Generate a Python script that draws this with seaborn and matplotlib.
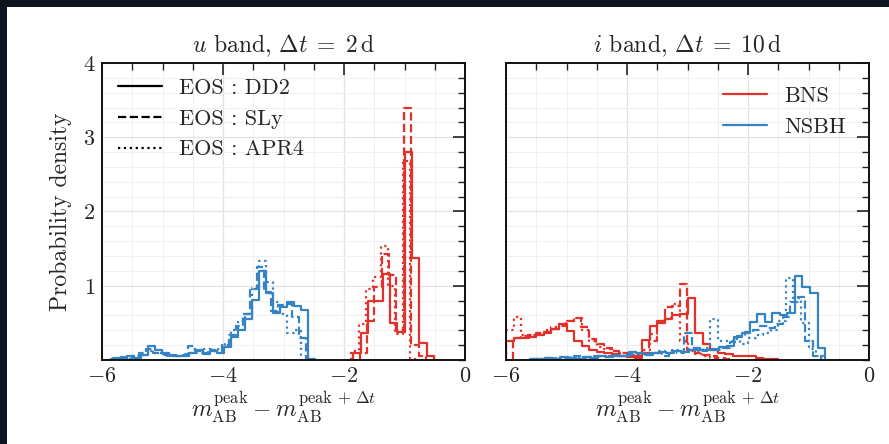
import numpy as np
import pandas as pd
import seaborn as sns
import matplotlib.pyplot as plt
from matplotlib.lines import Line2D
from matplotlib.patches import Rectangle
from matplotlib.ticker import MultipleLocator

# histogram data: first edge, bin width, heights
# u band, dt = 2 d
u_bns_dd2_start, u_bns_dd2_width = -1.846, 0.1215
u_bns_dd2 = [0.09, 0.36, 0.80, 0.80, 1.16, 0.50, 0.38, 2.80, 1.37, 0.23, 0.06]
u_bns_sly_start, u_bns_sly_width = -1.74, 0.1215
u_bns_sly = [0.10, 0.52, 0.98, 1.43, 1.15, 0.40, 3.40, 0.20, 0.05]
u_bns_apr4_start, u_bns_apr4_width = -1.88, 0.1215
u_bns_apr4 = [0.12, 0.49, 0.96, 1.12, 1.53, 1.00, 0.35, 2.68, 0.02]

u_nsbh_dd2_start, u_nsbh_dd2_width = -5.82, 0.115
u_nsbh_dd2 = [0.03, 0.01, 0.05, 0.03, 0.07, 0.19, 0.13, 0.10, 0.07, 0.06,
              0.05, 0.10, 0.13, 0.08, 0.12, 0.10, 0.17, 0.31, 0.40, 0.55,
              0.81, 1.20, 0.90, 0.63, 0.72, 0.78, 0.73, 0.67, 0.02]
u_nsbh_sly_start, u_nsbh_sly_width = -5.85, 0.115
u_nsbh_sly = [0.02, 0.04, 0.02, 0.06, 0.09, 0.15, 0.10, 0.08, 0.06, 0.05,
              0.07, 0.19, 0.12, 0.10, 0.14, 0.12, 0.20, 0.34, 0.46, 0.62,
              0.95, 1.25, 0.92, 0.66, 0.74, 0.76, 0.58, 0.30]
u_nsbh_apr4_start, u_nsbh_apr4_width = -5.70, 0.115
u_nsbh_apr4 = [0.03, 0.02, 0.05, 0.07, 0.12, 0.09, 0.07, 0.05, 0.06, 0.08,
               0.10, 0.12, 0.15, 0.12, 0.16, 0.22, 0.40, 0.52, 0.62, 0.97,
               1.33, 1.05, 0.78, 0.62, 0.36, 0.40]

# i band, dt = 10 d
i_bns_dd2_start, i_bns_dd2_width = -6.0, 0.125
i_bns_dd2 = [0.25, 0.29, 0.30, 0.31, 0.34, 0.37, 0.42, 0.48, 0.39, 0.26,
             0.19, 0.13, 0.11, 0.09, 0.08, 0.06, 0.04, 0.03, 0.27, 0.46,
             0.50, 0.55, 0.60, 0.62, 0.84, 0.36, 0.22, 0.13, 0.10, 0.08,
             0.06, 0.05, 0.05, 0.03, 0.02, 0.01]
i_bns_sly_start, i_bns_sly_width = -5.88, 0.125
i_bns_sly = [0.30, 0.32, 0.33, 0.36, 0.38, 0.42, 0.46, 0.52, 0.57, 0.44,
             0.28, 0.21, 0.16, 0.12, 0.10, 0.08, 0.06, 0.10, 0.25, 0.53,
             0.72, 0.73, 1.02, 0.14, 0.10, 0.07, 0.05, 0.03, 0.02]
i_bns_apr4_start, i_bns_apr4_width = -6.0, 0.125
i_bns_apr4 = [0.40, 0.58, 0.34, 0.34, 0.37, 0.40, 0.44, 0.48, 0.53, 0.56,
              0.40, 0.25, 0.18, 0.15, 0.12, 0.09, 0.07, 0.05, 0.14, 0.35,
              0.52, 0.56, 0.76, 0.25, 0.12, 0.08, 0.05, 0.03]

i_nsbh_dd2_start, i_nsbh_dd2_width = -5.6, 0.125
i_nsbh_dd2 = [0.02, 0.01, 0.03, 0.02, 0.04, 0.03, 0.02, 0.04, 0.03, 0.05,
              0.04, 0.06, 0.05, 0.11, 0.09, 0.08, 0.10, 0.11, 0.09, 0.12,
              0.11, 0.13, 0.14, 0.13, 0.15, 0.18, 0.19, 0.31, 0.37, 0.51,
              0.62, 0.51, 0.63, 0.60, 0.63, 1.13, 0.98, 0.90, 0.16]
i_nsbh_sly_start, i_nsbh_sly_width = -5.55, 0.125
i_nsbh_sly = [0.01, 0.02, 0.03, 0.02, 0.03, 0.05, 0.03, 0.04, 0.05, 0.04,
              0.06, 0.05, 0.07, 0.08, 0.10, 0.07, 0.09, 0.06, 0.12, 0.10,
              0.36, 0.16, 0.12, 0.14, 0.13, 0.16, 0.24, 0.32, 0.38, 0.40,
              0.46, 0.43, 0.48, 0.58, 0.78, 0.85, 0.25, 0.05]
i_nsbh_apr4_start, i_nsbh_apr4_width = -5.5, 0.125
i_nsbh_apr4 = [0.02, 0.03, 0.01, 0.04, 0.02, 0.05, 0.03, 0.04, 0.06, 0.05,
               0.07, 0.06, 0.08, 0.09, 0.07, 0.10, 0.12, 0.09, 0.13, 0.14,
               0.15, 0.12, 0.16, 0.55, 0.26, 0.25, 0.28, 0.22, 0.30, 0.33,
               0.36, 0.40, 0.52, 1.10, 0.84, 0.50, 0.15, 0.05]

titles = [r'$u$ band, $\Delta t\;=\;2\,\mathrm{d}$',
          r'$i$ band, $\Delta t\;=\;10\,\mathrm{d}$']
xlabel = r'$m_{\rm AB}^{\rm peak}\:{-}\:m_{\rm AB}^{{\rm peak}\,+\,\Delta t}$'
eos_names = ['DD2', 'SLy', 'APR4']
eos_styles = ['-', '--', ':']
red = '#e3302a'
blue = '#3583c2'

sns.set_theme(style='white')
plt.rcParams['font.family'] = 'serif'
plt.rcParams['font.serif'] = ['cmr10', 'DejaVu Serif']
plt.rcParams['mathtext.fontset'] = 'cm'
plt.rcParams['axes.formatter.use_mathtext'] = True
plt.rcParams['axes.unicode_minus'] = True

fig = plt.figure(figsize=(8.89, 4.44), dpi=100)
fig.patch.set_facecolor('#0e1521')
fig.add_artist(Rectangle((7 / 889, 0), 1, 437 / 444, transform=fig.transFigure,
                         facecolor='white', edgecolor='none', zorder=0))

ax1 = fig.add_axes([102 / 889, 84 / 444, 363 / 889, 297 / 444])
ax2 = fig.add_axes([506 / 889, 84 / 444, 363 / 889, 297 / 444], sharey=ax1)


def draw_hist(ax, start, width, heights, color, ls):
    n = len(heights)
    edges = start + width * np.arange(n + 1)
    df = pd.DataFrame({'x': edges[:-1] + width / 2, 'w': heights})
    # tiny empty bins at both ends so the step drops to zero
    bins = [edges[0] - 1e-6] + edges.tolist() + [edges[-1] + 1e-6]
    sns.histplot(data=df, x='x', weights='w', bins=bins, element='step',
                 fill=False, color=color, linestyle=ls, linewidth=1.6, ax=ax)


panels = [
    (ax1, [(u_bns_dd2_start, u_bns_dd2_width, u_bns_dd2),
           (u_bns_sly_start, u_bns_sly_width, u_bns_sly),
           (u_bns_apr4_start, u_bns_apr4_width, u_bns_apr4)],
          [(u_nsbh_dd2_start, u_nsbh_dd2_width, u_nsbh_dd2),
           (u_nsbh_sly_start, u_nsbh_sly_width, u_nsbh_sly),
           (u_nsbh_apr4_start, u_nsbh_apr4_width, u_nsbh_apr4)]),
    (ax2, [(i_bns_dd2_start, i_bns_dd2_width, i_bns_dd2),
           (i_bns_sly_start, i_bns_sly_width, i_bns_sly),
           (i_bns_apr4_start, i_bns_apr4_width, i_bns_apr4)],
          [(i_nsbh_dd2_start, i_nsbh_dd2_width, i_nsbh_dd2),
           (i_nsbh_sly_start, i_nsbh_sly_width, i_nsbh_sly),
           (i_nsbh_apr4_start, i_nsbh_apr4_width, i_nsbh_apr4)]),
]

for (ax, bns, nsbh), title in zip(panels, titles):
    for (s, w, h), ls in zip(bns, eos_styles):
        draw_hist(ax, s, w, h, red, ls)
    for (s, w, h), ls in zip(nsbh, eos_styles):
        draw_hist(ax, s, w, h, blue, ls)
    ax.set_xlim(-6, 0)
    ax.set_ylim(0, 4)
    ax.xaxis.set_major_locator(MultipleLocator(2))
    ax.xaxis.set_minor_locator(MultipleLocator(0.5))
    ax.set_yticks([1, 2, 3, 4])
    ax.yaxis.set_minor_locator(MultipleLocator(0.2))
    ax.set_axisbelow(True)
    ax.grid(which='major', color='#e2e2e2', linewidth=0.9)
    ax.grid(which='minor', color='#f0f0f0', linewidth=0.7)
    ax.tick_params(which='both', direction='in', top=True, right=True,
                   color='#222222', labelsize=16)
    ax.tick_params(which='major', length=8.5, width=1.2, pad=5)
    ax.tick_params(which='minor', length=5, width=1.0)
    for sp in ax.spines.values():
        sp.set_color('#111111')
        sp.set_linewidth(1.4)
    ax.set_title(title, fontsize=17, pad=8)
    ax.set_xlabel(xlabel, fontsize=17, labelpad=2)
    ax.set_ylabel('')

ax1.set_ylabel('Probability density', fontsize=17, labelpad=8)
ax2.tick_params(labelleft=False)

eos_handles = [Line2D([], [], color='black', ls=ls, lw=1.6) for ls in eos_styles]
ax1.legend(eos_handles, ['EOS : %s' % n for n in eos_names],
           loc='upper left', frameon=False, fontsize=16, handlelength=2.0,
           handletextpad=0.75, borderaxespad=0.3, labelspacing=0.5)

cls_handles = [Line2D([], [], color=red, lw=1.6), Line2D([], [], color=blue, lw=1.6)]
ax2.legend(cls_handles, ['BNS', 'NSBH'], loc='upper right', frameon=False,
           fontsize=16, handlelength=2.0, handletextpad=0.75,
           borderaxespad=0.65, labelspacing=0.5)

fig.savefig('out.png', dpi=100, facecolor=fig.get_facecolor())
